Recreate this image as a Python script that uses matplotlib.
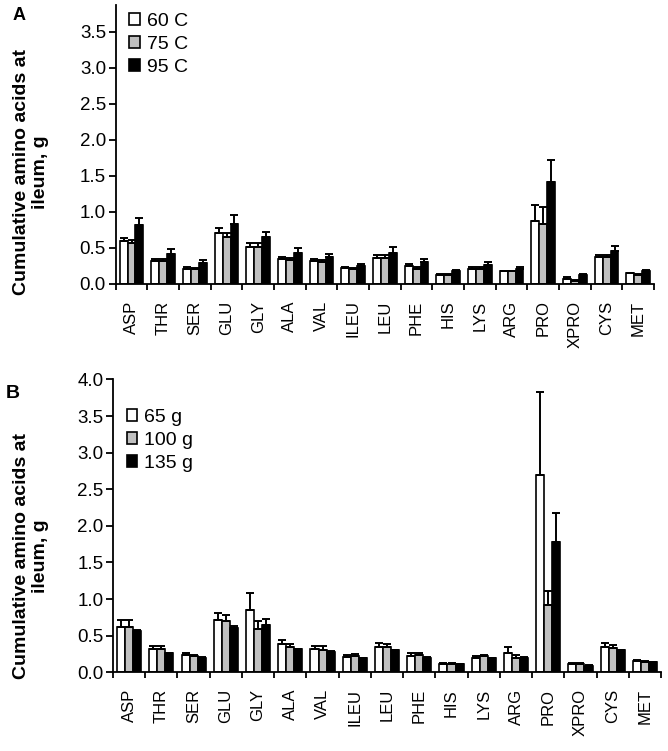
import numpy as np
import matplotlib
matplotlib.use("Agg")
import matplotlib.pyplot as plt

plt.rcParams['font.family'] = ['Liberation Sans', 'DejaVu Sans']

amino_acids = ["ASP", "THR", "SER", "GLU", "GLY", "ALA", "VAL", "ILEU", "LEU",
               "PHE", "HIS", "LYS", "ARG", "PRO", "XPRO", "CYS", "MET"]

# Panel A: temperature
temp_labels = ["60 C", "75 C", "95 C"]
a_60 = [0.59, 0.315, 0.21, 0.70, 0.51, 0.34, 0.32, 0.22, 0.36, 0.25, 0.12, 0.21, 0.17, 0.87, 0.06, 0.37, 0.145]
a_75 = [0.565, 0.32, 0.21, 0.645, 0.51, 0.33, 0.30, 0.21, 0.36, 0.21, 0.12, 0.21, 0.17, 0.83, 0.04, 0.37, 0.12]
a_95 = [0.81, 0.41, 0.29, 0.83, 0.65, 0.43, 0.37, 0.24, 0.43, 0.30, 0.18, 0.26, 0.20, 1.41, 0.125, 0.45, 0.18]
a_60_err = [0.04, 0.03, 0.02, 0.07, 0.055, 0.03, 0.02, 0.01, 0.04, 0.03, 0.01, 0.02, 0.01, 0.23, 0.04, 0.03, 0.01]
a_75_err = [0.04, 0.02, 0.01, 0.055, 0.055, 0.03, 0.03, 0.01, 0.04, 0.02, 0.01, 0.02, 0.01, 0.24, 0.01, 0.03, 0.01]
a_95_err = [0.10, 0.07, 0.04, 0.12, 0.07, 0.07, 0.04, 0.03, 0.08, 0.05, 0.01, 0.045, 0.03, 0.31, 0.01, 0.07, 0.01]

# Panel B: amount
amt_labels = ["65 g", "100 g", "135 g"]
b_65 = [0.615, 0.315, 0.23, 0.71, 0.85, 0.38, 0.315, 0.21, 0.35, 0.22, 0.12, 0.20, 0.26, 2.69, 0.12, 0.35, 0.155]
b_100 = [0.625, 0.315, 0.22, 0.70, 0.59, 0.34, 0.31, 0.22, 0.34, 0.23, 0.12, 0.22, 0.20, 0.92, 0.12, 0.33, 0.145]
b_135 = [0.565, 0.26, 0.20, 0.61, 0.645, 0.32, 0.28, 0.19, 0.30, 0.20, 0.11, 0.19, 0.20, 1.78, 0.09, 0.30, 0.135]
b_65_err = [0.10, 0.045, 0.04, 0.10, 0.24, 0.06, 0.045, 0.02, 0.05, 0.04, 0.01, 0.02, 0.085, 1.14, 0.01, 0.05, 0.01]
b_100_err = [0.085, 0.045, 0.02, 0.08, 0.11, 0.04, 0.05, 0.025, 0.05, 0.03, 0.01, 0.01, 0.03, 0.19, 0.01, 0.04, 0.01]
b_135_err = [0.01, 0.005, 0.005, 0.02, 0.085, 0.005, 0.005, 0.005, 0.005, 0.005, 0.005, 0.005, 0.005, 0.39, 0.005, 0.005, 0.005]

colors = ["white", "#c0c0c0", "black"]
y_label = "Cumulative amino acids at\nileum, g"

fig = plt.figure(figsize=(6.68, 7.51), dpi=100)
axA = fig.add_axes([0.1732, 0.6222, 0.806, 0.3711])
axB = fig.add_axes([0.1692, 0.1048, 0.8204, 0.3899])


def draw(ax, series, errs, labels, ymax, yticks, leg_y):
    x = np.arange(len(amino_acids))
    w = 0.25
    offs = [-w, 0, w]
    for vals, e, lab, c, o in zip(series, errs, labels, colors, offs):
        ax.bar(x + o, vals, w, color=c, edgecolor="black", linewidth=1.2, label=lab,
               yerr=[np.zeros(len(e)), e],
               error_kw=dict(ecolor="black", elinewidth=1.4, capsize=3, capthick=1.4))
    ax.set_xlim(-0.5, len(amino_acids) - 0.5)
    ax.set_ylim(0, ymax)
    ax.set_yticks(yticks)
    ax.set_yticklabels([f"{t:.1f}" for t in yticks], fontsize=13.5)
    ax.set_xticks(x)
    ax.set_xticklabels(amino_acids, rotation=90, fontsize=12)
    ax.set_xticks(np.arange(len(amino_acids) + 1) - 0.5, minor=True)
    ax.tick_params(axis='x', which='major', length=0, pad=12)
    ax.tick_params(axis='x', which='minor', length=4, width=1.3, direction='out')
    ax.tick_params(axis='y', length=5, width=1.3, direction='out', pad=2)
    for s in ["top", "right"]:
        ax.spines[s].set_visible(False)
    for s in ["left", "bottom"]:
        ax.spines[s].set_linewidth(1.3)
    ax.legend(loc="upper left", bbox_to_anchor=(0.0, leg_y), frameon=False,
              fontsize=14, handlelength=0.55, handleheight=0.55, handletextpad=0.35,
              labelspacing=0.3, borderaxespad=0.3)


draw(axA, [a_60, a_75, a_95], [a_60_err, a_75_err, a_95_err], temp_labels, 3.87,
     [0.0, 0.5, 1.0, 1.5, 2.0, 2.5, 3.0, 3.5], 1.02)
draw(axB, [b_65, b_100, b_135], [b_65_err, b_100_err, b_135_err], amt_labels, 4.0,
     [0.0, 0.5, 1.0, 1.5, 2.0, 2.5, 3.0, 3.5, 4.0], 0.945)

W, H = 668, 751
for yc in (172, 556):
    fig.text(31 / W, 1 - yc / H, y_label, rotation=90, ha='center', va='center',
             multialignment='center', fontsize=14, fontweight='bold', linespacing=1.2)

fig.text(0.019, 0.991, "A", fontsize=13, fontweight='bold', va='top')
fig.text(0.008, 0.487, "B", fontsize=14, fontweight='bold', va='top')

fig.savefig("out.png", dpi=100)
